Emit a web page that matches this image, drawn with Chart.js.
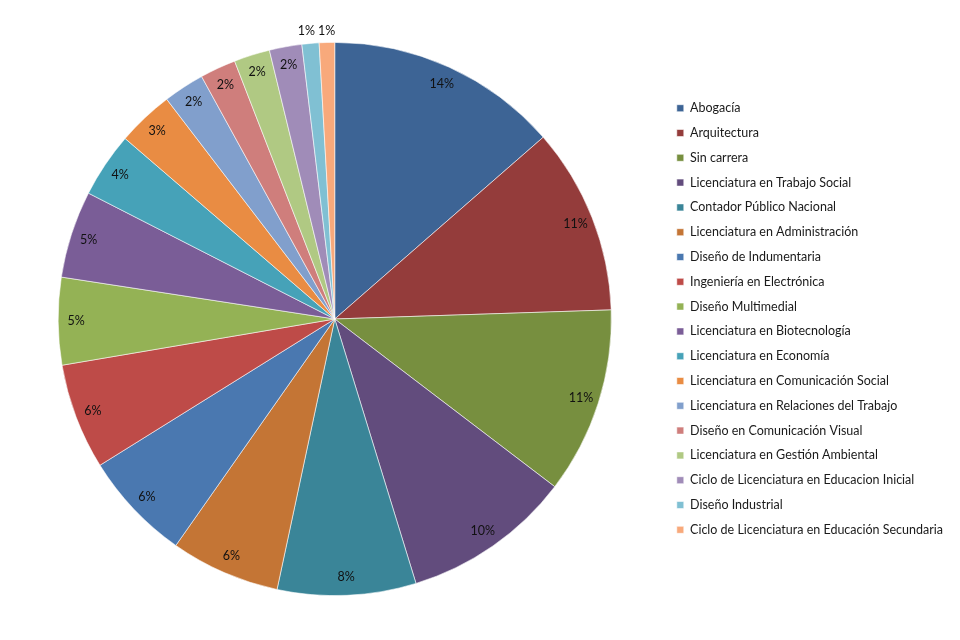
<!DOCTYPE html>
<html>
<head>
<meta charset="utf-8">
<script src="https://cdn.jsdelivr.net/npm/chart.js@4/dist/chart.umd.min.js"></script>
<style>
html,body{margin:0;padding:0;background:#fff;}
#wrap{width:960px;height:640px;position:relative;}
</style>
</head>
<body>
<div id="wrap"><canvas id="c" width="960" height="640"></canvas></div>
<script>
const categories = [
  "Abogacía",
  "Arquitectura",
  "Sin carrera",
  "Licenciatura en Trabajo Social",
  "Contador Público Nacional",
  "Licenciatura en Administración",
  "Diseño de Indumentaria",
  "Ingeniería en Electrónica",
  "Diseño Multimedial",
  "Licenciatura en Biotecnología",
  "Licenciatura en Economía",
  "Licenciatura en Comunicación Social",
  "Licenciatura en Relaciones del Trabajo",
  "Diseño en Comunicación Visual",
  "Licenciatura en Gestión Ambiental",
  "Ciclo de Licenciatura en Educacion Inicial",
  "Diseño Industrial",
  "Ciclo de Licenciatura en Educación Secundaria"
];
const shares = [13.6, 10.9, 10.9, 9.9, 8.1, 6.4, 6.4, 6.2, 5.1, 5.1, 3.8, 3.3, 2.4, 2.1, 2.1, 1.9, 1.0, 0.9];
const colors = [
  "#3d6495", "#943c3b", "#778f3f", "#624c7d", "#3a8598", "#c47535",
  "#4a78b0", "#be4b48", "#94b255", "#7a5d97", "#46a2b8", "#e98c43",
  "#819fcc", "#cf7e7c", "#b0c983", "#a08cb8", "#80c0d3", "#f8a97b"
];

const FONT = "Lato, 'Liberation Sans', sans-serif";

const labelPlugin = {
  id: 'pctLabels',
  afterDatasetsDraw(chart) {
    const ctx = chart.ctx;
    const meta = chart.getDatasetMeta(0);
    const data = chart.data.datasets[0].data;
    const total = data.reduce((a, b) => a + b, 0);
    ctx.save();
    ctx.font = "12.5px " + FONT;
    ctx.fillStyle = "#111111";
    ctx.textBaseline = "middle";
    ctx.textAlign = "center";
    const outside = [];
    meta.data.forEach((arc, i) => {
      const p = data[i] / total * 100;
      const txt = Math.round(p) + "%";
      const mid = (arc.startAngle + arc.endAngle) / 2;
      const small = p < 1.5;
      const r = arc.outerRadius * (small ? 1.04 : 0.935);
      const x = arc.x + Math.cos(mid) * r;
      const y = arc.y + Math.sin(mid) * r;
      if (small) outside.push({txt, x, y, w: ctx.measureText(txt).width});
      else ctx.fillText(txt, x, y);
    });
    outside.sort((a, b) => b.x - a.x);
    for (let k = 1; k < outside.length; k++) {
      const prev = outside[k - 1], cur = outside[k];
      const minGap = (prev.w + cur.w) / 2 + 3;
      if (prev.x - cur.x < minGap && Math.abs(prev.y - cur.y) < 12) {
        cur.x = prev.x - minGap;
        cur.y = prev.y;
      }
    }
    outside.forEach(o => ctx.fillText(o.txt, o.x, o.y));
    ctx.restore();
  }
};

new Chart(document.getElementById('c'), {
  type: 'pie',
  data: {
    labels: categories,
    datasets: [{
      data: shares,
      backgroundColor: colors,
      borderColor: 'rgba(255,255,255,0.7)',
      borderWidth: 0.8
    }]
  },
  options: {
    responsive: false,
    animation: false,
    rotation: 0,
    layout: { padding: { top: 42, bottom: 44, left: 5, right: 7 } },
    plugins: {
      legend: {
        position: 'right',
        align: 'center',
        labels: {
          boxWidth: 7,
          boxHeight: 7,
          padding: 12.3,
          color: '#1a1a1a',
          font: { family: FONT, size: 12.5 }
        }
      },
      tooltip: { enabled: false }
    }
  },
  plugins: [labelPlugin]
});
</script>
</body>
</html>
